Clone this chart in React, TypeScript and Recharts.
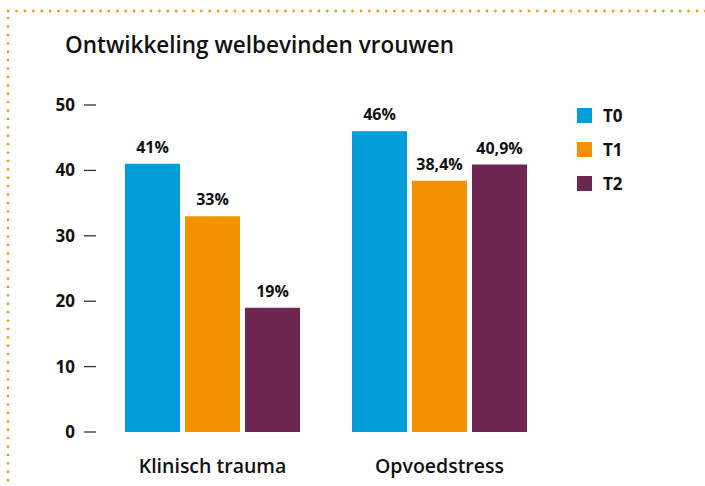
import React from "react";
import { BarChart, Bar, XAxis, YAxis, LabelList } from "recharts";

const categories = ["Klinisch trauma", "Opvoedstress"];
const t0Values = [41, 46];
const t1Values = [33, 38.4];
const t2Values = [19, 40.9];
const t0Labels = ["41%", "46%"];
const t1Labels = ["33%", "38,4%"];
const t2Labels = ["19%", "40,9%"];
const yTicks = [0, 10, 20, 30, 40, 50];
const seriesNames = ["T0", "T1", "T2"];
const colors = ["#009dd9", "#f39200", "#6e2753"];

const data = categories.map((c, i) => ({
  name: c,
  T0: t0Values[i],
  T1: t1Values[i],
  T2: t2Values[i],
  L0: t0Labels[i],
  L1: t1Labels[i],
  L2: t2Labels[i],
}));

const FONT = "'Open Sans', sans-serif";

const YTick = (props: any) => {
  const { y, payload } = props;
  return (
    <g>
      <text x={75} y={y} dy={6} textAnchor="end" fontFamily={FONT} fontWeight={700} fontSize={17} fill="#111">
        {payload.value}
      </text>
      <line x1={84} x2={96} y1={y} y2={y} stroke="#333" strokeWidth={1.3} />
    </g>
  );
};

const XTick = (props: any) => {
  const { x, payload } = props;
  return (
    <text x={x} y={473} textAnchor="middle" fontFamily={FONT} fontWeight={600} fontSize={19.5} fill="#111">
      {payload.value}
    </text>
  );
};

const LegendContent = () => (
  <div style={{ fontFamily: FONT }}>
    {seriesNames.map((n, i) => (
      <div key={n} style={{ display: "flex", alignItems: "center", height: 34 }}>
        <div style={{ width: 15, height: 15, background: colors[i], marginRight: 11 }} />
        <span style={{ fontSize: 17, fontWeight: 700, color: "#111" }}>{n}</span>
      </div>
    ))}
  </div>
);

const labelProps = { position: "top" as const, offset: 11, fontFamily: FONT, fontWeight: 700, fontSize: 16, fill: "#111" };

export default function App() {
  return (
    <div style={{ position: "relative", width: 705, height: 486, background: "#fff" }}>
      <style>{"body{margin:0;}"}</style>
      <svg width={705} height={486} style={{ position: "absolute", left: 0, top: 0 }}>
        <line x1={7} x2={705} y1={11} y2={11} stroke="#f39200" strokeWidth={2.3} strokeDasharray="2.3 6.1" />
        <line x1={8} x2={8} y1={17} y2={486} stroke="#f39200" strokeWidth={2.3} strokeDasharray="2.3 6.1" />
        <text x={65} y={53} fontFamily={FONT} fontWeight={600} fontSize={22.5} fill="#111">
          Ontwikkeling welbevinden vrouwen
        </text>
      </svg>
      <div style={{ position: "absolute", left: 0, top: 0 }}>
        <BarChart
          width={705}
          height={486}
          data={data}
          margin={{ top: 105, right: 152, bottom: 0, left: 0 }}
          barGap={5}
          barCategoryGap={26}
        >
          <YAxis
            domain={[0, 50]}
            ticks={yTicks}
            width={99}
            axisLine={false}
            tickLine={false}
            tick={<YTick />}
            interval={0}
          />
          <XAxis dataKey="name" axisLine={false} tickLine={false} height={54} tick={<XTick />} />
          <Bar dataKey="T0" fill={colors[0]} isAnimationActive={false}>
            <LabelList dataKey="L0" {...labelProps} />
          </Bar>
          <Bar dataKey="T1" fill={colors[1]} isAnimationActive={false}>
            <LabelList dataKey="L1" {...labelProps} />
          </Bar>
          <Bar dataKey="T2" fill={colors[2]} isAnimationActive={false}>
            <LabelList dataKey="L2" {...labelProps} />
          </Bar>
        </BarChart>
      </div>
      <div style={{ position: "absolute", left: 577, top: 98 }}>
        <LegendContent />
      </div>
    </div>
  );
}
